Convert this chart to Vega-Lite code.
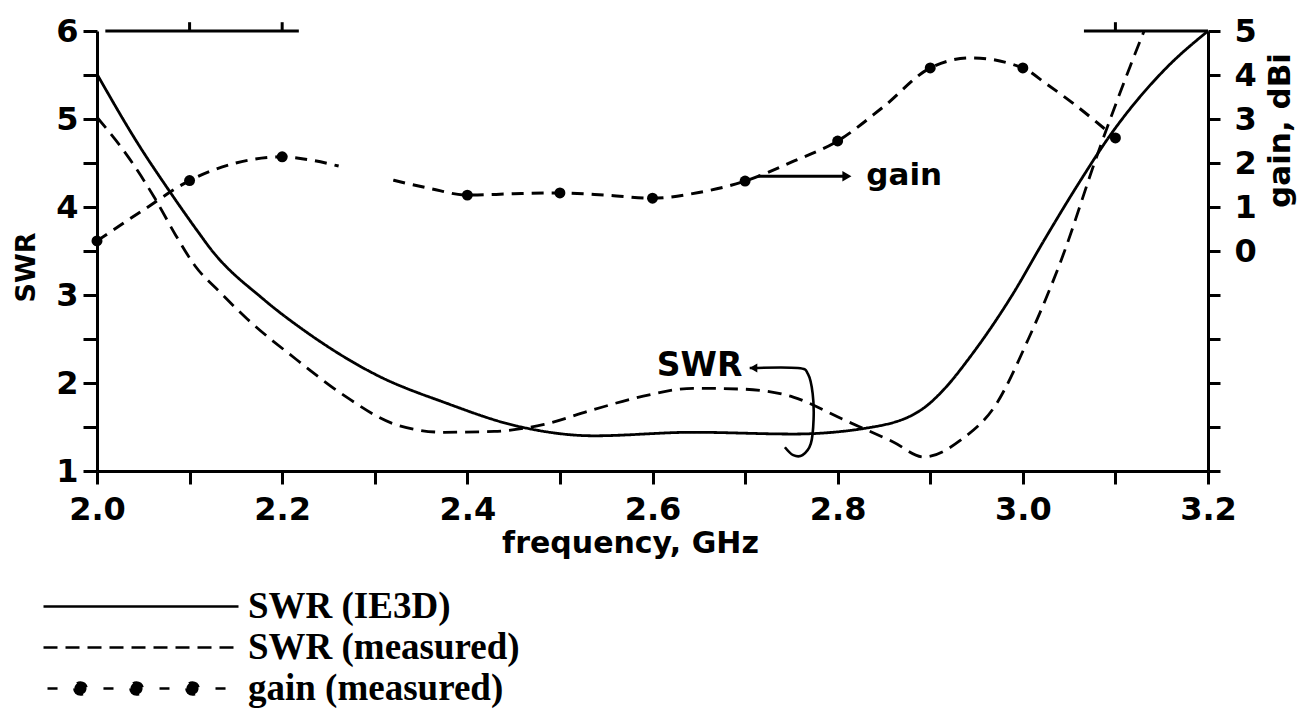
{
  "$schema": "https://vega.github.io/schema/vega-lite/v6.json",
  "width": 1111,
  "height": 440,
  "autosize": "none",
  "padding": {"left": 97, "top": 31, "right": 96, "bottom": 245},
  "background": "white",
  "config": {
    "view": {"stroke": null},
    "font": "DejaVu Sans",
    "axis": {
      "grid": false,
      "domainColor": "black",
      "domainWidth": 3,
      "tickColor": "black",
      "tickWidth": 3,
      "labelColor": "black",
      "labelFont": "DejaVu Sans",
      "labelFontWeight": "bold",
      "labelFontSize": 32,
      "labelFlush": false,
      "labelOverlap": false,
      "labelBound": false,
      "titleColor": "black",
      "titleFont": "DejaVu Sans",
      "titleFontWeight": "bold"
    }
  },
  "datasets": {
    "swr": [
      {"f": 2.000, "swr": 5.51, "series": "SWR (IE3D)"},
      {"f": 2.046, "swr": 4.69, "series": "SWR (IE3D)"},
      {"f": 2.077, "swr": 4.20, "series": "SWR (IE3D)"},
      {"f": 2.109, "swr": 3.72, "series": "SWR (IE3D)"},
      {"f": 2.123, "swr": 3.52, "series": "SWR (IE3D)"},
      {"f": 2.180, "swr": 2.95, "series": "SWR (IE3D)"},
      {"f": 2.226, "swr": 2.58, "series": "SWR (IE3D)"},
      {"f": 2.304, "swr": 2.08, "series": "SWR (IE3D)"},
      {"f": 2.375, "swr": 1.78, "series": "SWR (IE3D)"},
      {"f": 2.454, "swr": 1.51, "series": "SWR (IE3D)"},
      {"f": 2.537, "swr": 1.40, "series": "SWR (IE3D)"},
      {"f": 2.644, "swr": 1.44, "series": "SWR (IE3D)"},
      {"f": 2.752, "swr": 1.42, "series": "SWR (IE3D)"},
      {"f": 2.838, "swr": 1.50, "series": "SWR (IE3D)"},
      {"f": 2.896, "swr": 1.74, "series": "SWR (IE3D)"},
      {"f": 2.915, "swr": 1.93, "series": "SWR (IE3D)"},
      {"f": 2.944, "swr": 2.31, "series": "SWR (IE3D)"},
      {"f": 2.988, "swr": 2.99, "series": "SWR (IE3D)"},
      {"f": 3.024, "swr": 3.64, "series": "SWR (IE3D)"},
      {"f": 3.061, "swr": 4.28, "series": "SWR (IE3D)"},
      {"f": 3.094, "swr": 4.81, "series": "SWR (IE3D)"},
      {"f": 3.154, "swr": 5.57, "series": "SWR (IE3D)"},
      {"f": 3.200, "swr": 6.00, "series": "SWR (IE3D)"},
      {"f": 2.000, "swr": 5.02, "series": "SWR (measured)"},
      {"f": 2.035, "swr": 4.55, "series": "SWR (measured)"},
      {"f": 2.063, "swr": 4.09, "series": "SWR (measured)"},
      {"f": 2.085, "swr": 3.68, "series": "SWR (measured)"},
      {"f": 2.106, "swr": 3.33, "series": "SWR (measured)"},
      {"f": 2.133, "swr": 3.03, "series": "SWR (measured)"},
      {"f": 2.162, "swr": 2.73, "series": "SWR (measured)"},
      {"f": 2.215, "swr": 2.27, "series": "SWR (measured)"},
      {"f": 2.268, "swr": 1.85, "series": "SWR (measured)"},
      {"f": 2.322, "swr": 1.53, "series": "SWR (measured)"},
      {"f": 2.375, "swr": 1.44, "series": "SWR (measured)"},
      {"f": 2.429, "swr": 1.45, "series": "SWR (measured)"},
      {"f": 2.483, "swr": 1.53, "series": "SWR (measured)"},
      {"f": 2.537, "swr": 1.70, "series": "SWR (measured)"},
      {"f": 2.590, "swr": 1.85, "series": "SWR (measured)"},
      {"f": 2.644, "swr": 1.94, "series": "SWR (measured)"},
      {"f": 2.698, "swr": 1.93, "series": "SWR (measured)"},
      {"f": 2.752, "swr": 1.84, "series": "SWR (measured)"},
      {"f": 2.805, "swr": 1.59, "series": "SWR (measured)"},
      {"f": 2.860, "swr": 1.33, "series": "SWR (measured)"},
      {"f": 2.893, "swr": 1.16, "series": "SWR (measured)"},
      {"f": 2.934, "swr": 1.36, "series": "SWR (measured)"},
      {"f": 2.970, "swr": 1.74, "series": "SWR (measured)"},
      {"f": 3.006, "swr": 2.50, "series": "SWR (measured)"},
      {"f": 3.043, "swr": 3.44, "series": "SWR (measured)"},
      {"f": 3.080, "swr": 4.58, "series": "SWR (measured)"},
      {"f": 3.116, "swr": 5.60, "series": "SWR (measured)"},
      {"f": 3.131, "swr": 6.00, "series": "SWR (measured)"}
    ],
    "gain": [
      {"f": 2.00, "gain": 0.23, "series": "gain (measured)", "seg": "a", "m": 1},
      {"f": 2.05, "gain": 0.93, "series": "gain (measured)", "seg": "a"},
      {"f": 2.10, "gain": 1.60, "series": "gain (measured)", "seg": "a", "m": 1},
      {"f": 2.15, "gain": 2.00, "series": "gain (measured)", "seg": "a"},
      {"f": 2.20, "gain": 2.14, "series": "gain (measured)", "seg": "a", "m": 1},
      {"f": 2.23, "gain": 2.07, "series": "gain (measured)", "seg": "a"},
      {"f": 2.261, "gain": 1.93, "series": "gain (measured)", "seg": "a"},
      {"f": 2.32, "gain": 1.61, "series": "gain (measured)", "seg": "b"},
      {"f": 2.36, "gain": 1.42, "series": "gain (measured)", "seg": "b"},
      {"f": 2.40, "gain": 1.27, "series": "gain (measured)", "seg": "b", "m": 1},
      {"f": 2.45, "gain": 1.30, "series": "gain (measured)", "seg": "b"},
      {"f": 2.50, "gain": 1.32, "series": "gain (measured)", "seg": "b", "m": 1},
      {"f": 2.55, "gain": 1.27, "series": "gain (measured)", "seg": "b"},
      {"f": 2.60, "gain": 1.20, "series": "gain (measured)", "seg": "b", "m": 1},
      {"f": 2.65, "gain": 1.33, "series": "gain (measured)", "seg": "b"},
      {"f": 2.70, "gain": 1.59, "series": "gain (measured)", "seg": "b", "m": 1},
      {"f": 2.75, "gain": 2.02, "series": "gain (measured)", "seg": "b"},
      {"f": 2.80, "gain": 2.50, "series": "gain (measured)", "seg": "b", "m": 1},
      {"f": 2.849, "gain": 3.27, "series": "gain (measured)", "seg": "b"},
      {"f": 2.90, "gain": 4.16, "series": "gain (measured)", "seg": "b", "m": 1},
      {"f": 2.944, "gain": 4.39, "series": "gain (measured)", "seg": "b"},
      {"f": 3.00, "gain": 4.16, "series": "gain (measured)", "seg": "b", "m": 1},
      {"f": 3.024, "gain": 3.82, "series": "gain (measured)", "seg": "b"},
      {"f": 3.054, "gain": 3.36, "series": "gain (measured)", "seg": "b"},
      {"f": 3.10, "gain": 2.57, "series": "gain (measured)", "seg": "b", "m": 1}
    ],
    "bracket": [
      {"k": 0, "f": 2.705, "swr": 2.17},
      {"k": 1, "f": 2.757, "swr": 2.17},
      {"k": 2, "f": 2.768, "swr": 2.10},
      {"k": 3, "f": 2.773, "swr": 1.88},
      {"k": 4, "f": 2.774, "swr": 1.59},
      {"k": 5, "f": 2.771, "swr": 1.31},
      {"k": 6, "f": 2.762, "swr": 1.18},
      {"k": 7, "f": 2.752, "swr": 1.18},
      {"k": 8, "f": 2.743, "swr": 1.27}
    ],
    "toptick": [{"f": 2.1}, {"f": 2.2}, {"f": 3.1}]
  },
  "layer": [
    {
      "layer": [
        {
          "data": {"name": "swr"},
          "mark": {"type": "line", "color": "black", "strokeWidth": 2.8, "interpolate": "monotone"},
          "encoding": {
            "x": {
              "field": "f", "type": "quantitative",
              "scale": {"domain": [2.0, 3.2], "nice": false, "zero": false},
              "axis": {
                "orient": "bottom",
                "values": [2.0, 2.1, 2.2, 2.3, 2.4, 2.5, 2.6, 2.7, 2.8, 2.9, 3.0, 3.1, 3.2],
                "labelExpr": "round(datum.value * 10) % 2 === 0 ? format(datum.value, '.1f') : ''",
                "tickSize": 13,
                "labelPadding": 10,
                "title": "frequency, GHz",
                "titleFontSize": 30,
                "titlePadding": 3,
                "titleX": 533
              }
            },
            "y": {
              "field": "swr", "type": "quantitative",
              "scale": {"domain": [1, 6], "nice": false, "zero": false},
              "axis": {
                "orient": "left",
                "values": [1, 1.5, 2, 2.5, 3, 3.5, 4, 4.5, 5, 5.5, 6],
                "labelExpr": "datum.value % 1 === 0 ? format(datum.value, 'd') : ''",
                "tickSize": 14,
                "labelPadding": 5,
                "title": "SWR",
                "titleFontSize": 27,
                "titlePadding": 15,
                "titleY": 236
              }
            },
            "strokeDash": {
              "field": "series", "type": "nominal",
              "scale": {
                "domain": ["SWR (IE3D)", "SWR (measured)", "gain (measured)"],
                "range": [[1, 0], [14, 8], [12, 8]]
              },
              "legend": {
                "orient": "none",
                "legendX": -55,
                "legendY": 555,
                "title": null,
                "padding": 0,
                "clipHeight": 41,
                "symbolType": "stroke",
                "symbolSize": 38025,
                "symbolStrokeWidth": 2.6,
                "symbolStrokeColor": "black",
                "labelFont": "Liberation Serif",
                "labelFontSize": 37,
                "labelFontWeight": "bold",
                "labelColor": "black",
                "labelOffset": 8,
                "labelLimit": 600,
                "rowPadding": 0,
                "encode": {
                  "symbols": {
                    "update": {
                      "shape": {"signal": "datum.value === 'gain (measured)' ? 'M-0.959,0H-0.856M-0.385,0H-0.282M0.19,0H0.292M0.764,0H0.867M-0.683,0A0.062,0.062 0 1,0 -0.559,0A0.062,0.062 0 1,0 -0.683,0ZM-0.108,0A0.062,0.062 0 1,0 0.016,0A0.062,0.062 0 1,0 -0.108,0ZM0.466,0A0.062,0.062 0 1,0 0.59,0A0.062,0.062 0 1,0 0.466,0Z' : 'stroke'"},
                      "strokeDash": {"signal": "datum.value === 'SWR (measured)' ? [10, 13] : [1, 0]"},
                      "fill": {"signal": "datum.value === 'gain (measured)' ? 'black' : 'transparent'"},
                      "stroke": {"value": "black"}
                    }
                  }
                }
              }
            }
          }
        },
        {
          "data": {"name": "bracket"},
          "mark": {"type": "line", "color": "black", "strokeWidth": 2.6, "interpolate": "cardinal"},
          "encoding": {
            "x": {"field": "f", "type": "quantitative"},
            "y": {"field": "swr", "type": "quantitative"},
            "order": {"field": "k", "type": "quantitative"}
          }
        },
        {
          "data": {"values": [{}]},
          "mark": {"type": "point", "shape": "triangle-left", "filled": true, "color": "black", "opacity": 1, "size": 80},
          "encoding": {"x": {"datum": 2.709}, "y": {"datum": 2.17}}
        },
        {
          "data": {"values": [{}]},
          "mark": {"type": "text", "text": "SWR", "align": "right", "baseline": "alphabetic", "font": "DejaVu Sans", "fontWeight": "bold", "fontSize": 33, "color": "black"},
          "encoding": {"x": {"datum": 2.697}, "y": {"datum": 2.08}}
        },
        {
          "data": {"values": [{}]},
          "mark": {"type": "rule", "color": "black", "strokeWidth": 3},
          "encoding": {"x": {"datum": 2.009}, "x2": {"datum": 2.218}, "y": {"datum": 6}}
        },
        {
          "data": {"values": [{}]},
          "mark": {"type": "rule", "color": "black", "strokeWidth": 3},
          "encoding": {"x": {"datum": 3.066}, "x2": {"datum": 3.2}, "y": {"datum": 6}}
        },
        {
          "data": {"name": "toptick"},
          "mark": {"type": "rule", "color": "black", "strokeWidth": 3},
          "encoding": {"x": {"field": "f", "type": "quantitative"}, "y": {"datum": 6}, "y2": {"datum": 6.1}}
        }
      ]
    },
    {
      "layer": [
        {
          "data": {"name": "gain"},
          "mark": {"type": "line", "color": "black", "strokeWidth": 3, "interpolate": "monotone"},
          "encoding": {
            "x": {"field": "f", "type": "quantitative"},
            "y": {
              "field": "gain", "type": "quantitative",
              "scale": {"domain": [-5, 5], "nice": false, "zero": false},
              "axis": {
                "orient": "right",
                "values": [-5, -4, -3, -2, -1, 0, 1, 2, 3, 4, 5],
                "labelExpr": "datum.value >= 0 ? format(datum.value, 'd') : ''",
                "tickSize": 12,
                "labelPadding": 14,
                "title": "gain, dBi",
                "titleFontSize": 31,
                "titleAngle": 270,
                "titleX": 72,
                "titleY": 99,
                "titleAlign": "center",
                "titleBaseline": "middle"
              }
            },
            "strokeDash": {"field": "series", "type": "nominal"},
            "detail": {"field": "seg", "type": "nominal"}
          }
        },
        {
          "data": {"name": "gain"},
          "transform": [{"filter": "datum.m == 1"}],
          "mark": {"type": "circle", "size": 120, "color": "black", "opacity": 1},
          "encoding": {
            "x": {"field": "f", "type": "quantitative"},
            "y": {"field": "gain", "type": "quantitative"}
          }
        },
        {
          "data": {"values": [{}]},
          "mark": {"type": "rule", "color": "black", "strokeWidth": 3},
          "encoding": {"x": {"datum": 2.714}, "x2": {"datum": 2.806}, "y": {"datum": 1.70}}
        },
        {
          "data": {"values": [{}]},
          "mark": {"type": "point", "shape": "triangle-right", "filled": true, "color": "black", "opacity": 1, "size": 110},
          "encoding": {"x": {"datum": 2.810}, "y": {"datum": 1.70}}
        },
        {
          "data": {"values": [{}]},
          "mark": {"type": "text", "text": "gain", "align": "left", "baseline": "alphabetic", "font": "DejaVu Sans", "fontWeight": "bold", "fontSize": 31, "color": "black"},
          "encoding": {"x": {"datum": 2.831}, "y": {"datum": 1.5}}
        }
      ]
    }
  ],
  "resolve": {"scale": {"y": "independent"}}
}
